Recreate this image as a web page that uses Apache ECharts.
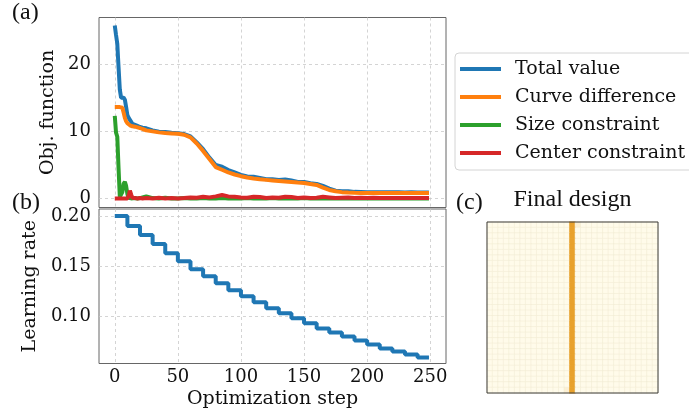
<!DOCTYPE html>
<html>
<head>
<meta charset="utf-8">
<script src="https://cdn.jsdelivr.net/npm/echarts@6/dist/echarts.min.js"></script>
<style>
  html, body { margin: 0; padding: 0; background: #fff; }
  #chart { width: 689px; height: 417px; }
</style>
</head>
<body>
<div id="chart"></div>
<script>
// optimization steps where the curves were sampled
var steps = [0,1,2,3,4,5,6,7,8,9,10,11,12,13,14,16,18,20,22,25,30,35,40,45,50,55,60,65,70,75,80,85,90,95,
  100,105,110,115,120,125,130,135,140,145,150,155,160,165,170,175,180,185,190,195,200,205,210,215,220,225,230,235,240,245,249];

var totalValue = [25.7,24.3,23.0,19.5,16.2,15.0,14.8,15.0,14.7,13.6,12.4,12.0,11.9,11.4,11.1,10.95,10.8,10.65,10.55,10.45,10.15,9.95,9.9,9.8,9.72,9.6,9.25,8.35,7.35,6.1,5.0,4.75,4.25,3.9,
  3.55,3.3,3.25,3.1,2.9,2.9,2.8,2.85,2.7,2.5,2.5,2.3,2.2,1.9,1.5,1.2,1.12,1.1,1.02,1.0,0.98,0.97,0.96,0.95,0.95,0.95,0.94,0.95,0.94,0.94,0.94];

var curveDiff = [13.6,13.6,13.6,13.6,13.6,13.6,13.5,12.8,12.0,11.5,11.2,11.0,10.9,10.8,10.75,10.7,10.6,10.5,10.35,10.15,10.0,9.85,9.75,9.7,9.65,9.5,9.1,8.2,7.1,5.9,4.7,4.3,3.9,3.6,
  3.35,3.15,3.0,2.88,2.8,2.72,2.64,2.56,2.48,2.4,2.33,2.2,2.05,1.65,1.3,1.1,0.98,0.92,0.88,0.86,0.85,0.85,0.85,0.84,0.84,0.84,0.84,0.84,0.84,0.84,0.84];

var sizeConstraint = [12.3,9.8,9.2,4.5,0.3,0.1,1.0,2.2,2.5,1.9,0.7,0.15,0.05,0.05,0.05,0.1,0.05,0.1,0.2,0.35,0.1,0.05,0.15,0.05,0.05,0.1,0.05,0.05,0.1,0.05,0.05,0.1,0.05,0.05,
  0.05,0.1,0.05,0.05,0.05,0.1,0.05,0.05,0.05,0.05,0.1,0.05,0.05,0.05,0.05,0.05,0.05,0.05,0.05,0.05,0.05,0.05,0.05,0.05,0.05,0.05,0.05,0.05,0.05,0.05,0.05];

var centerConstraint = [0.05,0.05,0.05,0.05,0.05,0.05,0.05,0.05,0.05,0.05,0.05,0.4,1.2,0.6,0.15,0.1,0.05,0.1,0.05,0.1,0.05,0.15,0.05,0.1,0.05,0.1,0.2,0.15,0.3,0.2,0.35,0.55,0.35,0.3,
  0.2,0.15,0.3,0.25,0.1,0.2,0.15,0.3,0.25,0.1,0.2,0.1,0.15,0.3,0.2,0.1,0.15,0.2,0.1,0.15,0.1,0.15,0.1,0.12,0.1,0.12,0.1,0.12,0.1,0.1,0.1];

// learning rate schedule (level starting at each step)
var lrSteps = [0,10,20,30,40,50,60,70,80,90,100,110,120,130,140,150,160,170,180,190,200,210,220,230,240,249];
var lrValues = [0.200,0.190,0.181,0.172,0.163,0.155,0.147,0.140,0.133,0.126,0.120,0.114,0.108,0.103,0.098,0.093,0.088,0.084,0.080,0.076,0.072,0.068,0.065,0.062,0.059,0.059];

// tick labels
var stepTicks = [0, 50, 100, 150, 200, 250];
var objTicks = [0, 10, 20];
var lrTicks = [0.10, 0.15, 0.20];

// final design: 31 x 31 pixels, one typical row plus a few partial cells [col, row, value]
var designSize = 31;
var designRow = [0,0,0,0,0,0,0,0,0,0,0,0,0,0,0,1,0,0,0,0,0,0,0,0,0,0,0,0,0,0,0];
var designPartial = [[16, 0, 0.12], [14, 30, 0.12]];

var names = ['Total value', 'Curve difference', 'Size constraint', 'Center constraint'];
var colors = ['#1f77b4', '#ff7f0e', '#2ca02c', '#d62728'];
var designColors = ['#fffbea', '#e8a12c'];

var serif = 'DejaVu Serif';

function pairs(xs, ys) {
  return xs.map(function (x, i) { return [x, ys[i]]; });
}

var designValues = [];
for (var r = 0; r < designSize; r++) {
  for (var c = 0; c < designSize; c++) {
    designValues.push([c, r, designRow[c]]);
  }
}
designPartial.forEach(function (p) {
  designValues[p[1] * designSize + p[0]][2] = p[2];
});
// cells of the bar get a border of their own colour so the bar reads solid
var designData = designValues.map(function (v) {
  if (v[2] > 0.5) {
    return { value: v, itemStyle: { borderColor: designColors[1], borderWidth: 0.6 } };
  }
  return { value: v };
});
var cats = designRow.map(function (v, i) { return i; });

var gridLine = { show: true, lineStyle: { color: '#c9c9c9', type: [3, 3], width: 0.8 } };
var lineSeries = [totalValue, curveDiff, sizeConstraint, centerConstraint].map(function (vals, i) {
  return {
    name: names[i],
    type: 'line',
    xAxisIndex: 0,
    yAxisIndex: 0,
    data: pairs(steps, vals),
    showSymbol: false,
    symbol: 'none',
    color: colors[i],
    lineStyle: { width: 4, color: colors[i] }
  };
});

var chart = echarts.init(document.getElementById('chart'), null, { renderer: 'canvas' });

var option = {
  animation: false,
  grid: [
    { left: 99, top: 17.5, width: 347, height: 190, show: true, borderColor: '#666', borderWidth: 1 },
    { left: 99, top: 209, width: 347, height: 154.5, show: true, borderColor: '#666', borderWidth: 1 },
    { left: 487, top: 222, width: 171, height: 171 }
  ],
  xAxis: [
    {
      gridIndex: 0, type: 'value', min: -12.5, max: 262.5,
      axisLine: { show: false },
      axisTick: { show: false, customValues: stepTicks },
      axisLabel: { show: false, customValues: stepTicks },
      splitLine: gridLine
    },
    {
      gridIndex: 1, type: 'value', min: -12.5, max: 262.5,
      name: 'Optimization step', nameLocation: 'middle', nameGap: 26,
      nameTextStyle: { fontFamily: serif, fontSize: 19, color: '#111' },
      axisLine: { show: false },
      axisTick: { show: false, customValues: stepTicks },
      axisLabel: { customValues: stepTicks, fontFamily: serif, fontSize: 18, color: '#111', margin: 5 },
      splitLine: gridLine
    },
    {
      gridIndex: 2, type: 'category', data: cats,
      axisLine: { show: false }, axisTick: { show: false }, axisLabel: { show: false }, splitLine: { show: false }
    }
  ],
  yAxis: [
    {
      gridIndex: 0, type: 'value', min: -1.3, max: 26.9,
      name: 'Obj. function', nameLocation: 'middle', nameGap: 37,
      nameTextStyle: { fontFamily: serif, fontSize: 19, color: '#111' },
      axisLine: { show: false },
      axisTick: { show: false, customValues: objTicks },
      axisLabel: { customValues: objTicks, fontFamily: serif, fontSize: 18, color: '#111', margin: 8 },
      splitLine: gridLine
    },
    {
      gridIndex: 1, type: 'value', min: 0.053, max: 0.207,
      name: 'Learning rate', nameLocation: 'middle', nameGap: 56,
      nameTextStyle: { fontFamily: serif, fontSize: 19, color: '#111' },
      axisLine: { show: false },
      axisTick: { show: false, customValues: lrTicks },
      axisLabel: {
        customValues: lrTicks, fontFamily: serif, fontSize: 18, color: '#111', margin: 8,
        formatter: function (v) { return v.toFixed(2); }
      },
      splitLine: gridLine
    },
    {
      gridIndex: 2, type: 'category', data: cats, inverse: true,
      axisLine: { show: false }, axisTick: { show: false }, axisLabel: { show: false }, splitLine: { show: false }
    }
  ],
  legend: {
    data: names,
    orient: 'vertical',
    left: 455, top: 53,
    icon: 'rect',
    itemWidth: 41, itemHeight: 4, itemGap: 6,
    padding: [5, 12, 6, 5],
    backgroundColor: '#fff',
    borderColor: '#d4d4d4', borderWidth: 1, borderRadius: 4,
    textStyle: { fontFamily: serif, fontSize: 19, color: '#111', lineHeight: 22, padding: [0, 0, 0, 9] }
  },
  visualMap: {
    show: false, type: 'continuous', min: 0, max: 1, seriesIndex: 5,
    inRange: { color: designColors }
  },
  graphic: [
    { type: 'text', style: { x: 12, y: 13, text: '(a)', font: '24px "Liberation Serif"', fill: '#111', verticalAlign: 'middle' } },
    { type: 'text', style: { x: 12, y: 203, text: '(b)', font: '24px "Liberation Serif"', fill: '#111', verticalAlign: 'middle' } },
    { type: 'text', style: { x: 456, y: 203, text: '(c)', font: '24px "Liberation Serif"', fill: '#111', verticalAlign: 'middle' } },
    { type: 'text', style: { x: 572.5, y: 200, text: 'Final design', font: '24px "Liberation Serif"', fill: '#111', align: 'center', verticalAlign: 'middle' } },
    // frame drawn over the design cells
    { type: 'rect', z: 100, silent: true, shape: { x: 487, y: 222, width: 171, height: 171 }, style: { fill: 'none', stroke: '#3a3a3a', lineWidth: 1 } }
  ],
  series: lineSeries.concat([
    {
      name: 'Learning rate',
      type: 'line',
      xAxisIndex: 1,
      yAxisIndex: 1,
      step: 'end',
      data: pairs(lrSteps, lrValues),
      showSymbol: false,
      symbol: 'none',
      color: '#1f77b4',
      lineStyle: { width: 4, color: '#1f77b4' }
    },
    {
      type: 'heatmap',
      xAxisIndex: 2,
      yAxisIndex: 2,
      data: designData,
      itemStyle: { borderColor: '#f0ead2', borderWidth: 0.5 },
      emphasis: { disabled: true }
    }
  ])
};

chart.setOption(option);
</script>
</body>
</html>
